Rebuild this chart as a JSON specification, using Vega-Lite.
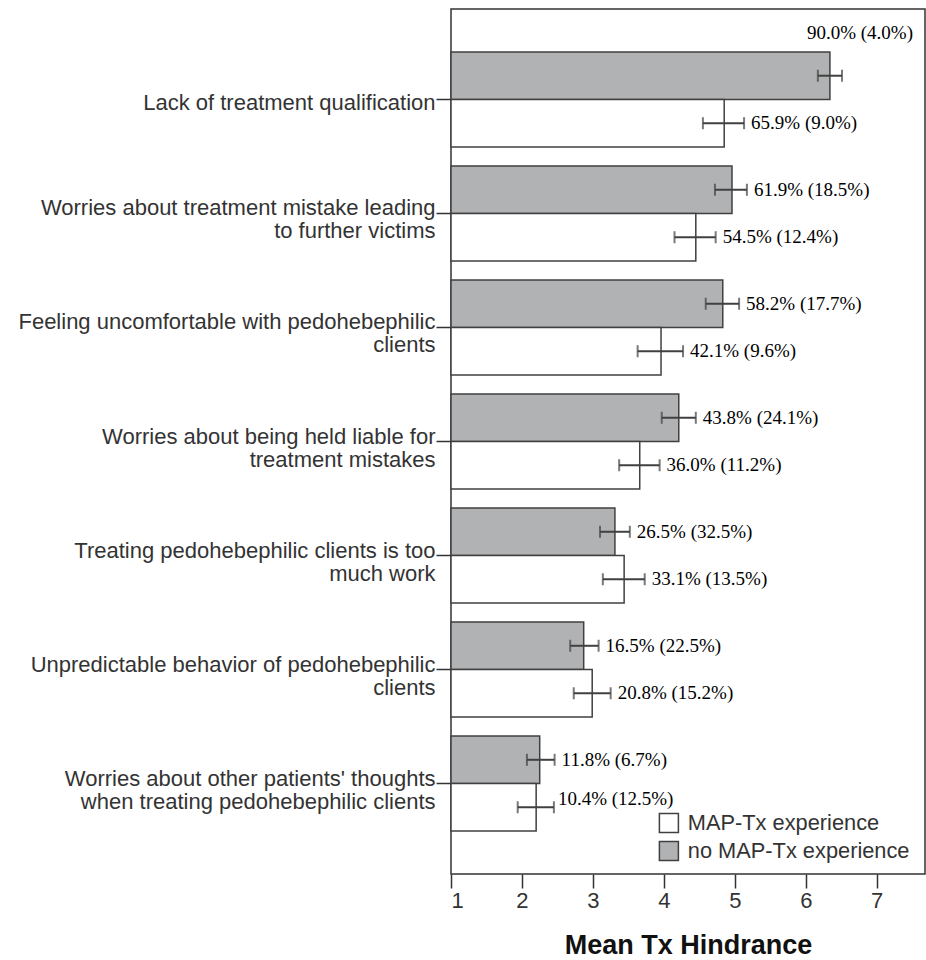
{
  "$schema": "https://vega.github.io/schema/vega-lite/v6.json",
  "autosize": {"type": "none"},
  "padding": {"left": 451, "top": 9, "right": 1, "bottom": 86},
  "width": 474,
  "height": 865,
  "background": "white",
  "config": {
    "view": {"stroke": "#333333", "strokeWidth": 1.5},
    "font": "Liberation Sans"
  },
  "data": {
    "values": [
      {"cat": "Lack of treatment qualification", "group": "no MAP-Tx experience", "mean": 6.34, "lo": 6.17, "hi": 6.51, "label": "90.0% (4.0%)"},
      {"cat": "Lack of treatment qualification", "group": "MAP-Tx experience", "mean": 4.85, "lo": 4.55, "hi": 5.13, "label": "65.9% (9.0%)"},
      {"cat": "Worries about treatment mistake leading\u2002\nto further victims", "group": "no MAP-Tx experience", "mean": 4.96, "lo": 4.72, "hi": 5.17, "label": "61.9% (18.5%)"},
      {"cat": "Worries about treatment mistake leading\u2002\nto further victims", "group": "MAP-Tx experience", "mean": 4.45, "lo": 4.15, "hi": 4.73, "label": "54.5% (12.4%)"},
      {"cat": "Feeling uncomfortable with pedohebephilic\nclients", "group": "no MAP-Tx experience", "mean": 4.83, "lo": 4.59, "hi": 5.06, "label": "58.2% (17.7%)"},
      {"cat": "Feeling uncomfortable with pedohebephilic\nclients", "group": "MAP-Tx experience", "mean": 3.96, "lo": 3.63, "hi": 4.27, "label": "42.1% (9.6%)"},
      {"cat": "Worries about being held liable for\u2004\ntreatment mistakes\u2004", "group": "no MAP-Tx experience", "mean": 4.21, "lo": 3.97, "hi": 4.45, "label": "43.8% (24.1%)"},
      {"cat": "Worries about being held liable for\u2004\ntreatment mistakes\u2004", "group": "MAP-Tx experience", "mean": 3.66, "lo": 3.37, "hi": 3.94, "label": "36.0% (11.2%)"},
      {"cat": "Treating pedohebephilic clients is too\u2002\nmuch work\u2005", "group": "no MAP-Tx experience", "mean": 3.31, "lo": 3.10, "hi": 3.52, "label": "26.5% (32.5%)"},
      {"cat": "Treating pedohebephilic clients is too\u2002\nmuch work\u2005", "group": "MAP-Tx experience", "mean": 3.44, "lo": 3.14, "hi": 3.73, "label": "33.1% (13.5%)"},
      {"cat": "Unpredictable behavior of pedohebephilic\u2002\nclients", "group": "no MAP-Tx experience", "mean": 2.87, "lo": 2.68, "hi": 3.08, "label": "16.5% (22.5%)"},
      {"cat": "Unpredictable behavior of pedohebephilic\u2002\nclients", "group": "MAP-Tx experience", "mean": 2.99, "lo": 2.73, "hi": 3.25, "label": "20.8% (15.2%)"},
      {"cat": "Worries about other patients' thoughts\u2004\nwhen treating pedohebephilic clients\u2002", "group": "no MAP-Tx experience", "mean": 2.25, "lo": 2.07, "hi": 2.46, "label": "11.8% (6.7%)"},
      {"cat": "Worries about other patients' thoughts\u2004\nwhen treating pedohebephilic clients\u2002", "group": "MAP-Tx experience", "mean": 2.20, "lo": 1.94, "hi": 2.45, "label": "10.4% (12.5%)"}
    ]
  },
  "encoding": {
    "y": {
      "field": "cat", "type": "nominal", "sort": null,
      "scale": {"paddingInner": 0.167, "paddingOuter": 0.377},
      "axis": {
        "title": null, "domain": false,
        "labelExpr": "split(datum.label, '\\n')",
        "labelFont": "Liberation Sans", "labelFontSize": 22, "labelColor": "#333333",
        "labelLineHeight": 23, "labelLimit": 460, "labelPadding": 1,
        "labelOffset": {"condition": {"test": "indexof(datum.value, '\\n') >= 0", "value": -5}, "value": 4},
        "tickSize": 15, "tickColor": "#333333", "tickWidth": 1.5
      }
    },
    "yOffset": {
      "field": "group", "type": "nominal",
      "sort": ["no MAP-Tx experience", "MAP-Tx experience"],
      "scale": {"paddingInner": 0, "paddingOuter": 0}
    }
  },
  "layer": [
    {
      "mark": {"type": "bar", "stroke": "#404040", "strokeWidth": 1.5},
      "encoding": {
        "x": {
          "field": "mean", "type": "quantitative",
          "scale": {"domain": [1, 7.68], "nice": false, "zero": false},
          "axis": {
            "values": [1, 2, 3, 4, 5, 6, 7], "format": "d", "grid": false, "domain": false,
            "title": "Mean Tx Hindrance",
            "titleFont": "Liberation Sans Narrow, Liberation Sans", "titleFontSize": 27, "titleFontWeight": "bold",
            "titleColor": "#111111", "titlePadding": 21,
            "labelFont": "Liberation Sans", "labelFontSize": 22, "labelColor": "#333333", "labelPadding": 2,
            "tickSize": 14, "tickColor": "#333333", "tickWidth": 1.5
          }
        },
        "x2": {"datum": 1},
        "fill": {
          "field": "group", "type": "nominal",
          "scale": {"domain": ["MAP-Tx experience", "no MAP-Tx experience"], "range": ["#ffffff", "#b1b2b4"]},
          "legend": {
            "title": null, "orient": "none", "legendX": 207, "legendY": 803,
            "symbolType": "square", "symbolSize": 361, "symbolStrokeColor": "#404040", "symbolStrokeWidth": 1.5,
            "labelFont": "Liberation Sans", "labelFontSize": 21.8, "labelColor": "#333333", "labelOffset": 8,
            "labelLimit": 300, "rowPadding": 2
          }
        }
      }
    },
    {
      "mark": {"type": "rule", "stroke": "#404040", "strokeWidth": 2},
      "encoding": {
        "x": {"field": "lo", "type": "quantitative"},
        "x2": {"field": "hi"}
      }
    },
    {
      "mark": {"type": "tick", "color": "#404040", "thickness": 2, "size": 12, "orient": "vertical"},
      "encoding": {"x": {"field": "lo", "type": "quantitative"}}
    },
    {
      "mark": {"type": "tick", "color": "#404040", "thickness": 2, "size": 12, "orient": "vertical"},
      "encoding": {"x": {"field": "hi", "type": "quantitative"}}
    },
    {
      "transform": [{"filter": "datum.label != '90.0% (4.0%)' && datum.label != '10.4% (12.5%)'"}],
      "mark": {"type": "text", "align": "left", "baseline": "middle", "dx": 7, "font": "Liberation Serif", "fontSize": 19, "color": "#000000"},
      "encoding": {
        "x": {"field": "hi", "type": "quantitative"},
        "text": {"field": "label"}
      }
    },
    {
      "transform": [{"filter": "datum.label == '10.4% (12.5%)'"}],
      "mark": {"type": "text", "align": "left", "baseline": "middle", "dx": 4, "dy": -8, "font": "Liberation Serif", "fontSize": 19, "color": "#000000"},
      "encoding": {
        "x": {"field": "hi", "type": "quantitative"},
        "text": {"field": "label"}
      }
    },
    {
      "transform": [{"filter": "datum.label == '90.0% (4.0%)'"}],
      "mark": {"type": "text", "align": "right", "baseline": "middle", "dx": 71, "dy": -43, "font": "Liberation Serif", "fontSize": 19, "color": "#000000"},
      "encoding": {
        "x": {"field": "hi", "type": "quantitative"},
        "text": {"field": "label"}
      }
    }
  ]
}
